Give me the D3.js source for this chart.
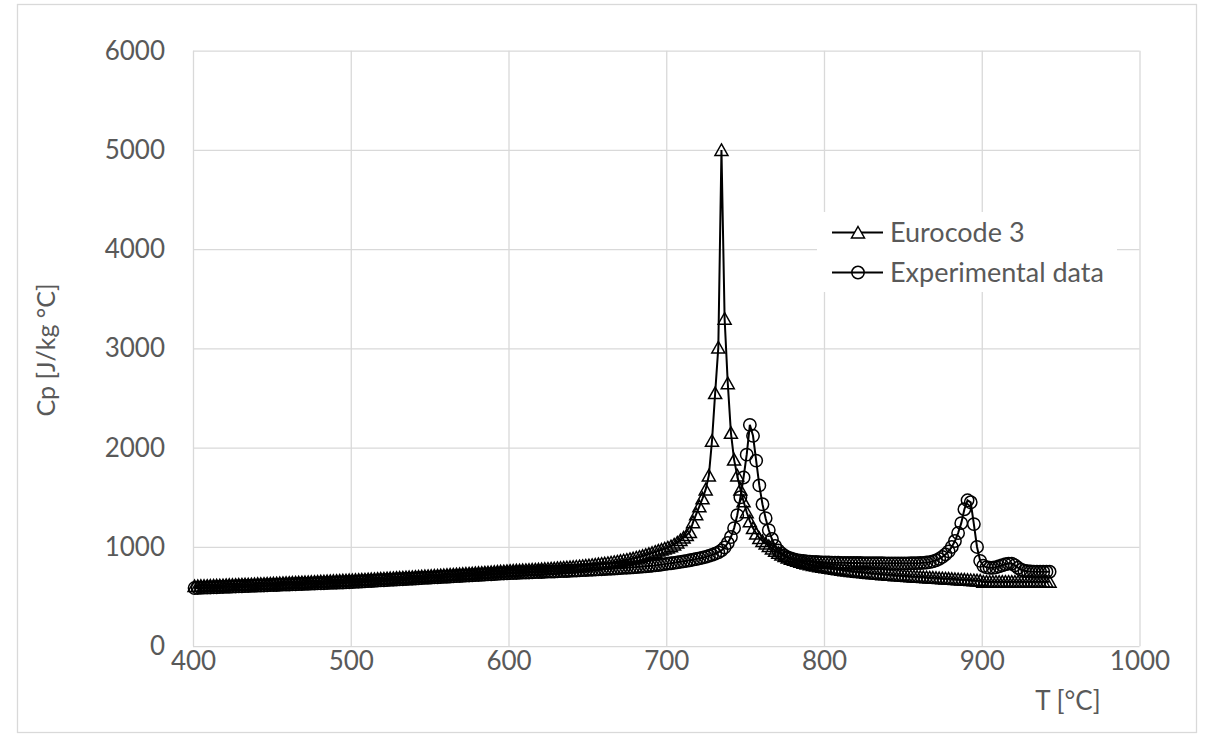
<!DOCTYPE html>
<html>
<head>
<meta charset="utf-8">
<script src="https://cdn.jsdelivr.net/npm/d3@7"></script>
<style>
  html, body { margin: 0; padding: 0; background: #fff; }
  svg { display: block; font-family: Lato, "Open Sans", sans-serif; }
</style>
</head>
<body>
<svg id="chart" width="1207" height="736"></svg>
<script>
// temperatures (°C), every 2 degrees
const temps = [
  401, 403, 405, 407, 409, 411, 413, 415, 417, 419,
  421, 423, 425, 427, 429, 431, 433, 435, 437, 439,
  441, 443, 445, 447, 449, 451, 453, 455, 457, 459,
  461, 463, 465, 467, 469, 471, 473, 475, 477, 479,
  481, 483, 485, 487, 489, 491, 493, 495, 497, 499,
  501, 503, 505, 507, 509, 511, 513, 515, 517, 519,
  521, 523, 525, 527, 529, 531, 533, 535, 537, 539,
  541, 543, 545, 547, 549, 551, 553, 555, 557, 559,
  561, 563, 565, 567, 569, 571, 573, 575, 577, 579,
  581, 583, 585, 587, 589, 591, 593, 595, 597, 599,
  601, 603, 605, 607, 609, 611, 613, 615, 617, 619,
  621, 623, 625, 627, 629, 631, 633, 635, 637, 639,
  641, 643, 645, 647, 649, 651, 653, 655, 657, 659,
  661, 663, 665, 667, 669, 671, 673, 675, 677, 679,
  681, 683, 685, 687, 689, 691, 693, 695, 697, 699,
  701, 703, 705, 707, 709, 711, 713, 715, 717, 719,
  721, 723, 725, 727, 729, 731, 733, 735, 737, 739,
  741, 743, 745, 747, 749, 751, 753, 755, 757, 759,
  761, 763, 765, 767, 769, 771, 773, 775, 777, 779,
  781, 783, 785, 787, 789, 791, 793, 795, 797, 799,
  801, 803, 805, 807, 809, 811, 813, 815, 817, 819,
  821, 823, 825, 827, 829, 831, 833, 835, 837, 839,
  841, 843, 845, 847, 849, 851, 853, 855, 857, 859,
  861, 863, 865, 867, 869, 871, 873, 875, 877, 879,
  881, 883, 885, 887, 889, 891, 893, 895, 897, 899,
  901, 903, 905, 907, 909, 911, 913, 915, 917, 919,
  921, 923, 925, 927, 929, 931, 933, 935, 937, 939,
  941, 943
];

// Eurocode 3 specific heat (J/kg °C)
const eurocode = [
  606, 607, 608, 609, 610, 611, 612, 613, 614, 615,
  617, 618, 619, 620, 621, 622, 623, 624, 625, 626,
  628, 629, 630, 631, 632, 634, 635, 636, 637, 638,
  640, 641, 642, 644, 645, 646, 647, 649, 650, 651,
  653, 654, 656, 657, 658, 660, 661, 663, 664, 666,
  667, 669, 670, 672, 673, 675, 676, 678, 680, 681,
  683, 685, 686, 688, 690, 691, 693, 695, 697, 698,
  700, 702, 704, 706, 708, 709, 711, 713, 715, 717,
  719, 721, 723, 725, 727, 729, 731, 733, 735, 737,
  739, 741, 743, 745, 747, 750, 752, 754, 756, 758,
  761, 762, 764, 765, 767, 768, 770, 772, 773, 775,
  777, 779, 781, 783, 785, 788, 790, 792, 795, 797,
  800, 803, 806, 809, 812, 815, 819, 823, 827, 831,
  835, 839, 844, 849, 854, 860, 866, 872, 879, 886,
  894, 902, 911, 921, 931, 941, 952, 963, 974, 985,
  995, 1008, 1025, 1045, 1070, 1095, 1120, 1150, 1250, 1330,
  1410, 1490, 1580, 1720, 2070, 2550, 3010, 5000, 3300, 2650,
  2150, 1880, 1720, 1580, 1460, 1350, 1260, 1190, 1135, 1090,
  1060, 1035, 1010, 985, 962, 942, 924, 908, 894, 882,
  870, 860, 851, 842, 834, 826, 819, 812, 806, 800,
  795, 790, 785, 780, 775, 770, 766, 762, 758, 754,
  750, 747, 744, 741, 738, 735, 732, 729, 726, 724,
  721, 719, 716, 714, 712, 709, 707, 705, 703, 701,
  699, 697, 695, 693, 691, 689, 687, 685, 683, 681,
  679, 677, 675, 673, 671, 669, 667, 665, 663, 661,
  650, 650, 650, 650, 650, 650, 650, 650, 650, 650,
  650, 650, 650, 650, 650, 650, 650, 650, 650, 650,
  650, 650
];

// measured specific heat (J/kg °C)
const experimental = [
  586, 587, 588, 590, 591, 592, 593, 594, 596, 597,
  598, 599, 600, 602, 603, 604, 605, 606, 608, 609,
  610, 611, 612, 614, 615, 616, 617, 618, 620, 621,
  622, 623, 624, 626, 627, 628, 629, 630, 632, 633,
  634, 635, 636, 638, 639, 640, 641, 642, 644, 645,
  646, 648, 650, 652, 654, 656, 657, 659, 661, 663,
  664, 666, 668, 670, 672, 673, 675, 677, 679, 680,
  682, 684, 686, 688, 689, 691, 693, 695, 697, 698,
  700, 702, 704, 706, 707, 709, 711, 713, 715, 716,
  718, 720, 722, 724, 725, 727, 729, 731, 733, 735,
  736, 737, 738, 740, 741, 742, 743, 745, 746, 747,
  748, 750, 751, 752, 753, 755, 756, 757, 758, 760,
  761, 763, 764, 766, 767, 769, 771, 772, 774, 776,
  778, 779, 781, 783, 785, 787, 789, 791, 793, 795,
  797, 800, 802, 805, 808, 811, 814, 818, 822, 827,
  832, 836, 840, 845, 850, 855, 860, 866, 872, 878,
  885, 892, 900, 910, 920, 932, 945, 965, 995, 1040,
  1100, 1190, 1320, 1500, 1700, 1930, 2230, 2120, 1870, 1620,
  1430, 1290, 1170, 1080, 1010, 965, 935, 912, 895, 883,
  874, 867, 862, 858, 855, 852, 850, 848, 846, 845,
  844, 843, 842, 841, 841, 840, 840, 839, 839, 838,
  838, 838, 837, 837, 837, 836, 836, 836, 836, 835,
  835, 835, 835, 835, 835, 835, 835, 836, 836, 837,
  838, 840, 843, 847, 855, 865, 880, 900, 925, 955,
  1000, 1060, 1140, 1240, 1380, 1470, 1450, 1230, 1000, 860,
  810, 795, 790, 790, 795, 805, 815, 825, 832, 832,
  815, 790, 770, 760, 755, 752, 750, 750, 750, 750,
  750, 750
];

const xTicks = [400, 500, 600, 700, 800, 900, 1000];
const yTicks = [0, 1000, 2000, 3000, 4000, 5000, 6000];
const seriesNames = ["Eurocode 3", "Experimental data"];

let svg = d3.select("#chart"),
    margin = {top: 50.7, right: 67.5, bottom: 89.8, left: 193},
    width = 1207 - margin.left - margin.right,
    height = 736 - margin.top - margin.bottom;

const gridColor = "#d9d9d9",
      textColor = "#595959",
      fontStack = "Lato, 'Open Sans', sans-serif";

//outer chart border
svg.append("rect")
  .attr("x", 17.5).attr("y", 4.5)
  .attr("width", 1179).attr("height", 728)
  .attr("fill", "#fff")
  .attr("stroke", gridColor)
  .attr("stroke-width", 1.3);

let g = svg.append("g").attr("transform", "translate(" + margin.left + "," + margin.top + ")");

let x = d3.scaleLinear().domain([400, 1000]).range([0, width]);
let y = d3.scaleLinear().domain([0, 6000]).range([height, 0]);

//gridlines
g.append("g")
  .call(d3.axisLeft(y).tickValues(yTicks).tickSize(-width).tickFormat(""))
  .call(a => a.select(".domain").remove())
  .selectAll("line").attr("stroke", gridColor).attr("stroke-width", 1.3);

g.append("g")
  .attr("transform", "translate(0," + height + ")")
  .call(d3.axisBottom(x).tickValues(xTicks).tickSize(-height).tickFormat(""))
  .call(a => a.select(".domain").remove())
  .selectAll("line").attr("stroke", gridColor).attr("stroke-width", 1.3);

//tick labels
g.append("g")
  .attr("class", "y-axis")
  .call(d3.axisLeft(y).tickValues(yTicks).tickSize(0).tickPadding(28).tickFormat(d3.format("d")))
  .call(a => a.select(".domain").remove())
  .selectAll("text")
  .style("font-family", fontStack)
  .style("font-size", "26px")
  .attr("fill", textColor);

g.append("g")
  .attr("class", "x-axis")
  .attr("transform", "translate(0," + height + ")")
  .call(d3.axisBottom(x).tickValues(xTicks).tickSize(0).tickPadding(5).tickFormat(d3.format("d")))
  .call(a => a.select(".domain").remove())
  .selectAll("text")
  .style("font-family", fontStack)
  .style("font-size", "26px")
  .attr("fill", textColor);

//axis titles
svg.append("text")
  .attr("transform", "translate(55,350) rotate(-90)")
  .attr("text-anchor", "middle")
  .style("font-size", "25px")
  .attr("fill", textColor)
  .text("Cp [J/kg °C]");

svg.append("text")
  .attr("x", 1068)
  .attr("y", 710)
  .attr("text-anchor", "middle")
  .style("font-size", "26px")
  .attr("fill", textColor)
  .text("T [°C]");

//series
const ecData = temps.map((t, i) => ({t: t, v: eurocode[i]}));
const expData = temps.map((t, i) => ({t: t, v: experimental[i]}));

let line = d3.line().x(d => x(d.t)).y(d => y(d.v));
const triPath = "M0,-6 L6.5,5.5 L-6.5,5.5 Z";

g.append("path")
  .datum(ecData)
  .attr("d", line)
  .attr("fill", "none")
  .attr("stroke", "#000")
  .attr("stroke-width", 2);

g.append("g").selectAll("path")
  .data(ecData)
  .enter()
  .append("path")
  .attr("d", triPath)
  .attr("transform", d => "translate(" + x(d.t) + "," + y(d.v) + ")")
  .attr("fill", "none")
  .attr("stroke", "#000")
  .attr("stroke-width", 1.5);

g.append("path")
  .datum(expData)
  .attr("d", line)
  .attr("fill", "none")
  .attr("stroke", "#000")
  .attr("stroke-width", 2);

g.append("g").selectAll("circle")
  .data(expData)
  .enter()
  .append("circle")
  .attr("cx", d => x(d.t))
  .attr("cy", d => y(d.v))
  .attr("r", 6.2)
  .attr("fill", "none")
  .attr("stroke", "#000")
  .attr("stroke-width", 1.5);

//legend
let legend = svg.append("g").attr("class", "legend");
legend.append("rect")
  .attr("x", 817).attr("y", 212)
  .attr("width", 300).attr("height", 80)
  .attr("fill", "#fff");

seriesNames.forEach(function(name, i){
  let ly = 232.5 + i * 40;
  legend.append("line")
    .attr("x1", 832).attr("x2", 883)
    .attr("y1", ly).attr("y2", ly)
    .attr("stroke", "#000").attr("stroke-width", 2);
  if(i === 0){
    legend.append("path")
      .attr("d", triPath)
      .attr("transform", "translate(858," + ly + ")")
      .attr("fill", "#fff").attr("stroke", "#000").attr("stroke-width", 1.5);
  } else {
    legend.append("circle")
      .attr("cx", 858).attr("cy", ly).attr("r", 6.2)
      .attr("fill", "none").attr("stroke", "#000").attr("stroke-width", 1.5);
  }
  legend.append("text")
    .attr("x", 890)
    .attr("y", ly)
    .attr("dy", "0.35em")
    .style("font-size", "27px")
    .attr("fill", textColor)
    .text(name);
});
</script>
</body>
</html>
